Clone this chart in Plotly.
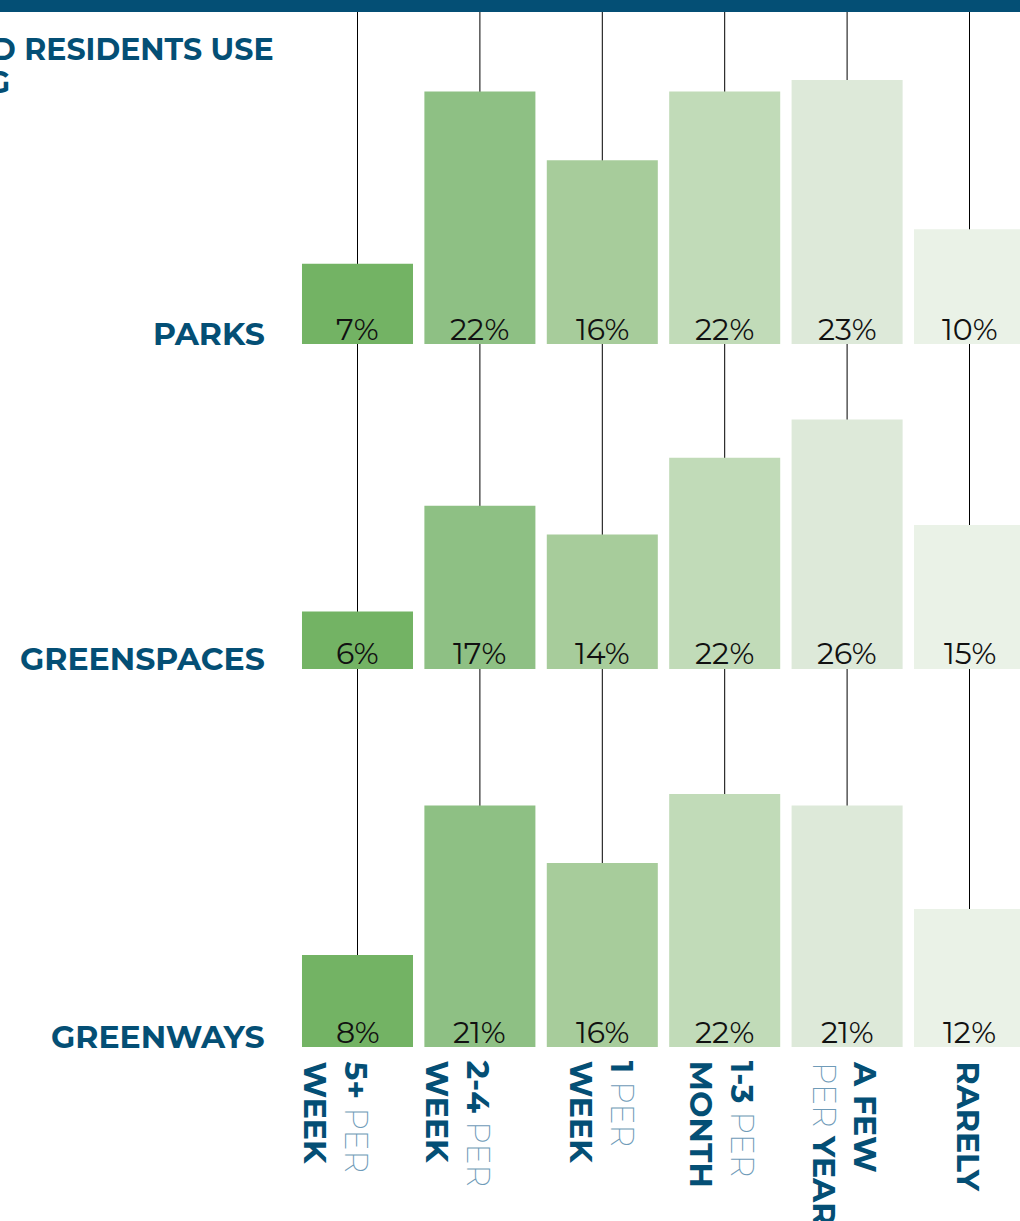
import plotly.graph_objects as go
from plotly.subplots import make_subplots

# --- data -------------------------------------------------------------
frequencies = ["5+ PER WEEK", "2-4 PER WEEK", "1 PER WEEK",
               "1-3 PER MONTH", "A FEW PER YEAR", "RARELY"]
freq_labels = [
    "<b>5+</b> <span style='color:#6f9bb8;font-weight:200'>PER</span><br><b>WEEK</b>",
    "<b>2-4</b> <span style='color:#6f9bb8;font-weight:200'>PER</span><br><b>WEEK</b>",
    "<b>1</b> <span style='color:#6f9bb8;font-weight:200'>PER</span><br><b>WEEK</b>",
    "<b>1-3</b> <span style='color:#6f9bb8;font-weight:200'>PER</span><br><b>MONTH</b>",
    "<b>A FEW</b><br><span style='color:#6f9bb8;font-weight:200'>PER</span> <b>YEAR</b>",
    "<b>RARELY</b>",
]
places = ["PARKS", "GREENSPACES", "GREENWAYS"]
parks = [7, 22, 16, 22, 23, 10]
greenspaces = [6, 17, 14, 22, 26, 15]
greenways = [8, 21, 16, 22, 21, 12]
title_lines = ["D RESIDENTS USE", "G"]

# --- styling ----------------------------------------------------------
W, H = 1020, 1221
NAVY = "#044f75"
bar_colors = ["#73b364", "#8ec084", "#a7cc9b", "#c1dbb8", "#dde9d9", "#eaf2e7"]
FONT = "Montserrat, Lato, 'Open Sans', sans-serif"


def py(px):
    """pixel row -> paper fraction"""
    return 1 - px / H


# row layout: (top px, baseline px, px per percent, label lift px)
rows = [(40, 344, 11.48, 15), (380, 669, 9.6, 16), (700, 1047, 11.5, 15)]
series = [parks, greenspaces, greenways]

fig = make_subplots(rows=3, cols=1, shared_xaxes=False, vertical_spacing=0.0)

x_pos = list(range(len(frequencies)))
col_w = 122.4
x0 = -357.5 / col_w
x1 = x0 + W / col_w

for r, (vals, (top, base, scale, lift)) in enumerate(zip(series, rows), start=1):
    fig.add_trace(go.Bar(
        x=x_pos, y=vals, marker=dict(color=bar_colors, line=dict(width=0)),
        width=0.907, showlegend=False, hoverinfo="skip", cliponaxis=True,
    ), row=r, col=1)
    ax = "" if r == 1 else str(r)
    fig.layout[f"yaxis{ax}"].update(
        domain=[py(base), py(top)], range=[0, (base - top) / scale],
        visible=False, fixedrange=True)
    fig.layout[f"xaxis{ax}"].update(
        range=[x0, x1], visible=False, fixedrange=True, domain=[0, 1])
    # percentage labels sitting at the foot of each bar
    for i, v in zip(x_pos, vals):
        fig.add_annotation(
            text=f"{v}%", xref=f"x{ax}", yref=f"y{ax}", x=i, y=0,
            xanchor="center", yanchor="middle", yshift=lift, showarrow=False,
            font=dict(family=FONT, size=30, color="#111111"))
    # row label
    fig.add_annotation(
        text=f"<b>{places[r - 1]}</b>", xref="paper", yref="paper",
        x=267 / W, y=py(base - 10), xanchor="right", yanchor="middle",
        showarrow=False, font=dict(family=FONT, size=31.5, color=NAVY))

# vertical guide lines behind the bars
for i in x_pos:
    fig.add_shape(type="line", xref="x", yref="paper", x0=i, x1=i,
                  y0=py(1047), y1=py(12), layer="below",
                  line=dict(color="#000000", width=1))

# header band
fig.add_shape(type="rect", xref="paper", yref="paper", x0=0, x1=1,
              y0=py(12), y1=1, fillcolor=NAVY, line=dict(width=0), layer="above")

# title fragment
fig.add_annotation(text=f"<b>{title_lines[0]}</b>", xref="paper", yref="paper",
                   x=276 / W, y=py(49), xanchor="right", yanchor="middle",
                   showarrow=False, font=dict(family=FONT, size=30, color=NAVY))
fig.add_annotation(text=f"<b>{title_lines[1]}</b>", xref="paper", yref="paper",
                   x=12 / W, y=py(82), xanchor="right", yanchor="middle",
                   showarrow=False, font=dict(family=FONT, size=30, color=NAVY))

# rotated frequency labels under the columns
label_shift = [-22, -22, 0, -3, -2, -2]
for i, lab in enumerate(freq_labels):
    fig.add_annotation(text=lab, xref="x3", yref="paper", x=i, y=py(1059),
                       xanchor="center", yanchor="top", textangle=90,
                       xshift=label_shift[i], showarrow=False, align="left",
                       font=dict(family=FONT, size=31.5, color=NAVY))

fig.update_layout(
    width=W, height=H, margin=dict(l=0, r=0, t=0, b=0),
    paper_bgcolor="white", plot_bgcolor="rgba(0,0,0,0)",
    bargap=0.093,
)

fig.write_html("out.html", config={"displayModeBar": False})
